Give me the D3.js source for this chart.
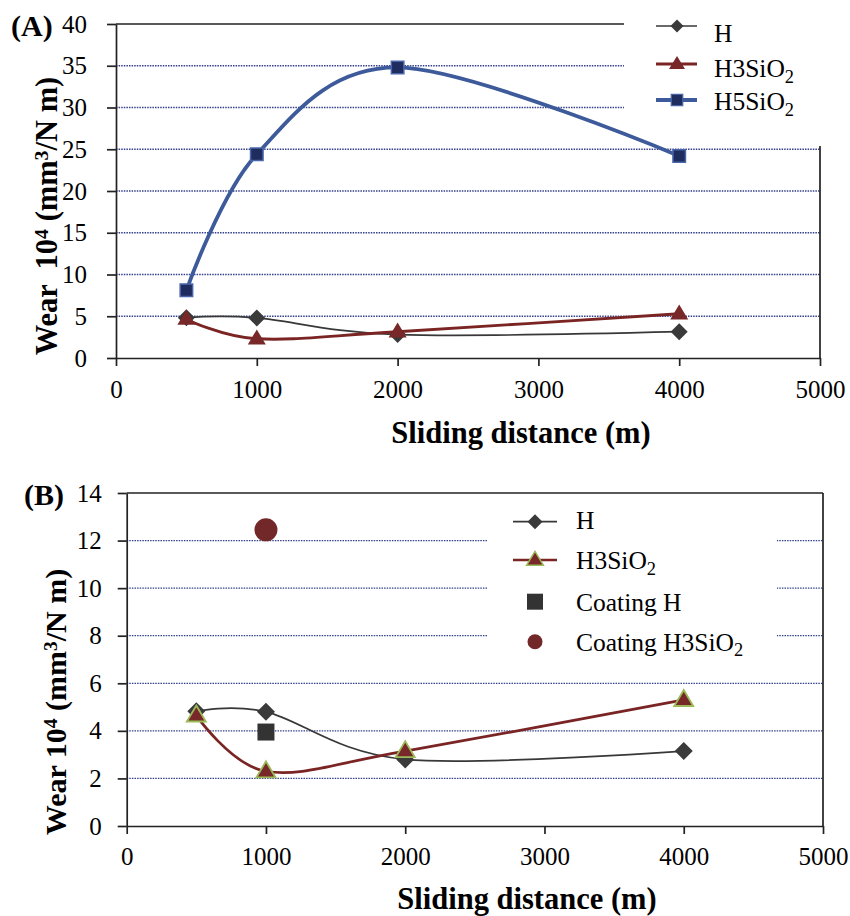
<!DOCTYPE html>
<html>
<head>
<meta charset="utf-8">
<script src="https://cdn.jsdelivr.net/npm/d3@7"></script>
<style>
  html, body { margin: 0; padding: 0; background: #fff; }
  svg text { font-family: "Liberation Serif", "Times New Roman", serif; fill: #000; white-space: pre; }
</style>
</head>
<body>
<svg id="chart" width="850" height="916"></svg>
<script>
// ---------------------------------------------------------------------------
// Data
// ---------------------------------------------------------------------------
const distance       = [500, 1000, 2000, 4000];
const wearH          = [4.82, 4.8, 2.8, 3.15];
const wearH3SiO2     = [4.65, 2.3, 3.15, 5.3];
const wearH5SiO2     = [8.1, 24.4, 34.8, 24.2];
const coatingDist    = [1000];
const coatingH       = [3.95];
const coatingH3SiO2  = [12.45];

const xTicks  = [0, 1000, 2000, 3000, 4000, 5000];
const yTicksA = [0, 5, 10, 15, 20, 25, 30, 35, 40];
const yTicksB = [0, 2, 4, 6, 8, 10, 12, 14];

// ---------------------------------------------------------------------------
// Style
// ---------------------------------------------------------------------------
const COLORS = {
  h:        '#383838',
  hMark:    '#3a3a3a',
  h3:       '#7a2424',
  h3Mark:   '#782828',
  h3Edge:   '#9bbb59',
  h5:       '#3d5a9b',
  h5Mark:   '#1e2c5e',
  h5Edge:   '#4a66aa',
  grid:     '#35418a',
  coatCirc: '#722828',
};

const svg = d3.select('#chart');
const curve = d3.curveCardinal.tension(0);

function pts(xs, ys) { return xs.map((x, i) => ({ x, y: ys[i] })); }

// marker paths centred on 0,0
function diamond(r) { return `M0,${-r}L${r},0L0,${r}L${-r},0Z`; }
function triangle(w, h) { return `M0,${-h * 0.62}L${w / 2},${h * 0.38}L${-w / 2},${h * 0.38}Z`; }
function square(s) { return `M${-s / 2},${-s / 2}h${s}v${s}h${-s}Z`; }

// subscript / superscript helper for labels like H3SiO2
function richText(sel, parts) {
  parts.forEach(p => {
    const t = sel.append('tspan').text(p.t);
    if (p.sub) t.attr('dy', '0.3em').attr('font-size', '0.72em');
    if (p.sup) t.attr('dy', '-0.45em').attr('font-size', '0.65em');
    if (p.back) t.attr('dy', p.back);
  });
}

const H3 = [{ t: 'H3SiO' }, { t: '2', sub: true }];
const H5 = [{ t: 'H5SiO' }, { t: '2', sub: true }];
function yTitle(gap) {
  return [
    { t: 'Wear' + gap + '10' }, { t: '4', sup: true },
    { t: ' (mm', back: '0.3em' }, { t: '3', sup: true },
    { t: '/N m)', back: '0.3em' },
  ];
}

// ---------------------------------------------------------------------------
// Panel drawing
// ---------------------------------------------------------------------------
function drawAxes(g, x, y, yTicks, opt) {
  // gridlines (skip zero and top)
  g.append('g').selectAll('line')
    .data(yTicks.filter(d => d > 0 && d < d3.max(yTicks)))
    .join('line')
    .attr('x1', x.range()[0])
    .attr('x2', d => opt.gridEnd(d))
    .attr('y1', d => y(d)).attr('y2', d => y(d))
    .attr('stroke', COLORS.grid)
    .attr('stroke-width', 1.3)
    .attr('stroke-dasharray', '1.5,1.1');

  // top and right borders
  g.append('line')
    .attr('x1', x.range()[0]).attr('x2', opt.topEnd)
    .attr('y1', y.range()[1]).attr('y2', y.range()[1])
    .attr('stroke', '#222').attr('stroke-width', 1.7);
  g.append('line')
    .attr('x1', x.range()[1]).attr('x2', x.range()[1])
    .attr('y1', opt.rightStart).attr('y2', y.range()[0])
    .attr('stroke', '#222').attr('stroke-width', 1.7);

  const xa = g.append('g')
    .attr('transform', `translate(0,${y.range()[0]})`)
    .call(d3.axisBottom(x).tickValues(xTicks).tickSize(8).tickSizeOuter(0).tickPadding(opt.xPad).tickFormat(d3.format('d')));
  const ya = g.append('g')
    .attr('transform', `translate(${x.range()[0]},0)`)
    .call(d3.axisLeft(y).tickValues(yTicks).tickSize(9).tickSizeOuter(0).tickPadding(opt.yPad).tickFormat(d3.format('d')));

  [xa, ya].forEach(a => {
    a.selectAll('path, line').attr('stroke', '#222').attr('stroke-width', 1.7);
    a.selectAll('text').attr('font-size', 25).attr('fill', '#000');
  });
}

function drawSeries(g, x, y, data, s) {
  const line = d3.line().x(d => x(d.x)).y(d => y(d.y)).curve(curve);
  g.append('path')
    .datum(data)
    .attr('d', line)
    .attr('fill', 'none')
    .attr('stroke', s.color)
    .attr('stroke-width', s.width);
  drawMarks(g, x, y, data, s);
}

function drawMarks(g, x, y, data, s) {
  g.append('g').selectAll('path')
    .data(data)
    .join('path')
    .attr('transform', d => `translate(${x(d.x)},${y(d.y)})`)
    .attr('d', s.shape)
    .attr('fill', s.fill)
    .attr('stroke', s.edge || 'none')
    .attr('stroke-width', s.edgeW || 0);
}

function drawLegend(g, items, lx, tx, x0, x1) {
  items.forEach(it => {
    const row = g.append('g').attr('transform', `translate(0,${it.y})`);
    if (it.line) {
      row.append('line')
        .attr('x1', x0).attr('x2', x1)
        .attr('stroke', it.line).attr('stroke-width', it.lw);
    }
    row.append('path')
      .attr('transform', `translate(${lx},0)`)
      .attr('d', it.shape)
      .attr('fill', it.fill)
      .attr('stroke', it.edge || 'none')
      .attr('stroke-width', it.edgeW || 0);
    const t = row.append('text')
      .attr('x', tx).attr('y', it.dy)
      .attr('font-size', 25.5);
    richText(t, it.label);
  });
}

// ---------------------------------------------------------------------------
// Panel A
// ---------------------------------------------------------------------------
(function () {
  const x = d3.scaleLinear().domain([0, 5000]).range([116, 820]);
  const y = d3.scaleLinear().domain([0, 40]).range([358, 24]);
  const g = svg.append('g');

  drawAxes(g, x, y, yTicksA, {
    gridEnd: d => (y(d) < 120 ? 624 : 820),
    topEnd: 624,
    rightStart: 146,
    xPad: 14,
    yPad: 20,
  });

  drawSeries(g, x, y, pts(distance, wearH), {
    color: COLORS.h, width: 1.7, shape: diamond(8.5), fill: COLORS.hMark,
  });
  drawSeries(g, x, y, pts(distance, wearH3SiO2), {
    color: COLORS.h3, width: 2.9, shape: triangle(18, 15), fill: COLORS.h3Mark,
  });
  drawSeries(g, x, y, pts(distance, wearH5SiO2), {
    color: COLORS.h5, width: 3.8, shape: square(12.5), fill: COLORS.h5Mark,
    edge: COLORS.h5Edge, edgeW: 1.5,
  });

  drawLegend(g, [
    { y: 26,  dy: 16, line: COLORS.h,  lw: 1.7, shape: diamond(6.5), fill: COLORS.hMark, label: [{ t: 'H' }] },
    { y: 64,  dy: 13, line: COLORS.h3, lw: 2.9, shape: triangle(16, 13), fill: COLORS.h3Mark, label: H3 },
    { y: 100, dy: 10, line: COLORS.h5, lw: 3.8, shape: square(11.5), fill: COLORS.h5Mark,
      edge: COLORS.h5Edge, edgeW: 1.2, label: H5 },
  ], 677, 714, 656, 697);

  g.append('text').attr('x', 11).attr('y', 36)
    .attr('font-size', 30).attr('font-weight', 'bold').text('(A)');

  g.append('text').attr('x', 521).attr('y', 443)
    .attr('text-anchor', 'middle').attr('font-size', 30.5).attr('font-weight', 'bold')
    .text('Sliding distance (m)');

  const yt = g.append('text')
    .attr('transform', 'translate(57,216) rotate(-90)')
    .attr('text-anchor', 'middle').attr('font-size', 30.5).attr('font-weight', 'bold');
  richText(yt, yTitle('  '));
})();

// ---------------------------------------------------------------------------
// Panel B
// ---------------------------------------------------------------------------
(function () {
  const x = d3.scaleLinear().domain([0, 5000]).range([126.7, 823]);
  const y = d3.scaleLinear().domain([0, 14]).range([826, 493]);
  const g = svg.append('g');

  drawAxes(g, x, y, yTicksB, {
    gridEnd: () => 823,
    topEnd: 823,
    rightStart: 493,
    xPad: 13,
    yPad: 16,
  });

  // legend background cuts the gridlines
  g.append('rect')
    .attr('x', 487).attr('y', 500).attr('width', 290).attr('height', 168)
    .attr('fill', '#fff');

  drawSeries(g, x, y, pts(distance, wearH), {
    color: COLORS.h, width: 1.7, shape: diamond(9), fill: COLORS.hMark,
  });
  drawSeries(g, x, y, pts(distance, wearH3SiO2), {
    color: COLORS.h3, width: 2.7, shape: triangle(19, 16), fill: COLORS.h3Mark,
    edge: COLORS.h3Edge, edgeW: 1.8,
  });
  drawMarks(g, x, y, pts(coatingDist, coatingH), { shape: square(17), fill: '#333' });
  drawMarks(g, x, y, pts(coatingDist, coatingH3SiO2), {
    shape: d3.symbol(d3.symbolCircle, Math.PI * 11.5 * 11.5)(), fill: COLORS.coatCirc,
  });

  drawLegend(g, [
    { y: 521.7, dy: 7, line: COLORS.h,  lw: 1.7, shape: diamond(7.5), fill: COLORS.hMark, label: [{ t: 'H' }] },
    { y: 560,   dy: 9, line: COLORS.h3, lw: 2.7, shape: triangle(17, 14), fill: COLORS.h3Mark,
      edge: COLORS.h3Edge, edgeW: 1.4, label: H3 },
    { y: 601.7, dy: 9, shape: square(16), fill: '#333', label: [{ t: 'Coating H' }] },
    { y: 641.7, dy: 9, shape: d3.symbol(d3.symbolCircle, Math.PI * 7.5 * 7.5)(), fill: COLORS.coatCirc,
      label: [{ t: 'Coating ' }].concat(H3) },
  ], 535, 576, 513, 557);

  g.append('text').attr('x', 24).attr('y', 505)
    .attr('font-size', 30).attr('font-weight', 'bold').text('(B)');

  g.append('text').attr('x', 527).attr('y', 909)
    .attr('text-anchor', 'middle').attr('font-size', 30.5).attr('font-weight', 'bold')
    .text('Sliding distance (m)');

  const yt = g.append('text')
    .attr('transform', 'translate(66,702) rotate(-90)')
    .attr('text-anchor', 'middle').attr('font-size', 30).attr('font-weight', 'bold');
  richText(yt, yTitle(' '));
})();
</script>
</body>
</html>
